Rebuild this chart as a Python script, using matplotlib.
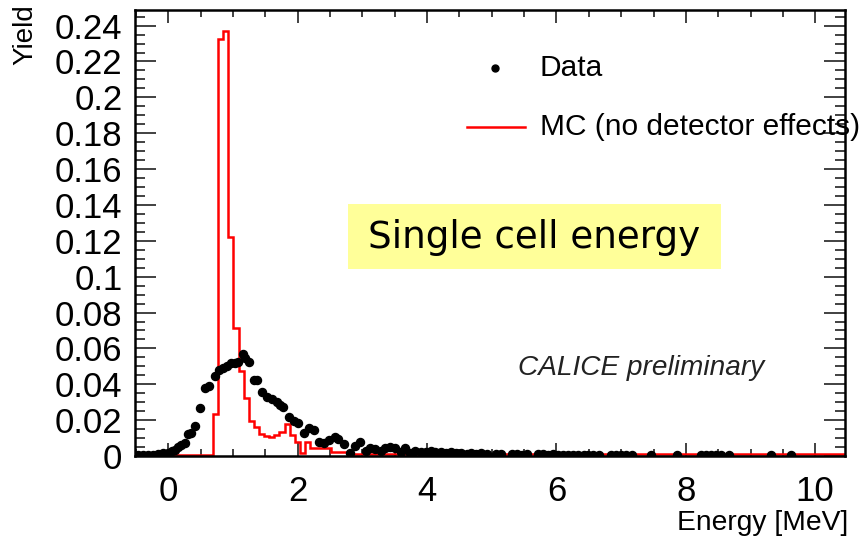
import numpy as np
import matplotlib
matplotlib.use("Agg")
import matplotlib.pyplot as plt
from matplotlib.ticker import MultipleLocator
from matplotlib.patches import Rectangle
from matplotlib.lines import Line2D

plt.rcParams["font.family"] = ["Liberation Sans", "DejaVu Sans"]

# MC histogram (no detector effects): bin edges and contents
mc_edges = [-0.5, 0.69, 0.769, 0.848, 0.927, 1.006, 1.085, 1.164, 1.243, 1.322,
            1.401, 1.48, 1.559, 1.638, 1.717, 1.796, 1.875, 1.954, 2.033, 2.112,
            2.191, 2.27, 2.349, 2.428, 2.507, 2.586, 2.665, 2.744, 2.823, 10.5]
mc_vals = [0.0005, 0.0234, 0.2324, 0.237, 0.1223, 0.0716, 0.0474, 0.0322, 0.0197,
           0.0163, 0.0123, 0.0112, 0.0104, 0.0117, 0.0136, 0.0178, 0.0117, 0.008,
           0.0018, 0.008, 0.0046, 0.0046, 0.0046, 0.0046, 0.0025, 0.0025, 0.0025,
           0.0025, 0.001]

# Data points
data_x = [-0.47, -0.39, -0.31, -0.24, -0.16, -0.08, 0.00, 0.05, 0.10, 0.155, 0.19,
          0.26, 0.31, 0.35, 0.41, 0.49, 0.57, 0.635, 0.72, 0.785, 0.85, 0.91, 0.97,
          1.03, 1.08, 1.15, 1.19, 1.24, 1.32, 1.37, 1.45, 1.52, 1.60, 1.68, 1.73,
          1.78, 1.86, 1.94, 2.01, 2.09, 2.17, 2.25, 2.33, 2.41, 2.49, 2.57, 2.63,
          2.71, 2.81, 2.89, 2.97, 3.05, 3.12, 3.20, 3.28, 3.35, 3.43, 3.51, 3.59,
          3.66, 3.74, 3.82, 3.90, 3.98, 4.06, 4.13, 4.21, 4.29, 4.37, 4.45, 4.53,
          4.61, 4.68, 4.76, 4.84, 4.92, 5.07, 5.15, 5.31, 5.39, 5.47, 5.55, 5.71,
          5.79, 5.87, 5.94, 6.02, 6.10, 6.18, 6.26, 6.34, 6.42, 6.49, 6.57, 6.65,
          6.84, 6.92, 7.00, 7.08, 7.16, 7.46, 7.87, 8.23, 8.31, 8.39, 8.46, 8.54,
          8.67, 9.31, 9.62]
data_y = [0.0005, 0.0005, 0.0005, 0.0008, 0.0012, 0.0015, 0.0018, 0.003, 0.0035,
          0.005, 0.006, 0.0074, 0.012, 0.013, 0.017, 0.0266, 0.0378, 0.039, 0.0446,
          0.048, 0.049, 0.050, 0.0517, 0.0517, 0.0526, 0.0567, 0.0545, 0.0526,
          0.0424, 0.0424, 0.0359, 0.0331, 0.0316, 0.0303, 0.0284, 0.0272, 0.0216,
          0.0197, 0.0182, 0.0127, 0.0158, 0.0145, 0.0076, 0.0071, 0.0089, 0.0108,
          0.0093, 0.0067, 0.0015, 0.0057, 0.008, 0.003, 0.0043, 0.0038, 0.003,
          0.0043, 0.0052, 0.0043, 0.0024, 0.0043, 0.0018, 0.003, 0.0025, 0.002,
          0.0028, 0.002, 0.0022, 0.0018, 0.002, 0.0015, 0.0017, 0.0012, 0.0015,
          0.0012, 0.0014, 0.001, 0.0012, 0.001, 0.001, 0.0012, 0.0008, 0.001,
          0.0009, 0.0011, 0.0008, 0.0009, 0.0007, 0.0008, 0.0007, 0.0006, 0.0008,
          0.0006, 0.0007, 0.0006, 0.0005, 0.0005, 0.0005, 0.0005, 0.0005, 0.0005,
          0.0005, 0.0005, 0.0005, 0.0005, 0.0005, 0.0005, 0.0005, 0.0005, 0.0005,
          0.0005]

W, H = 861, 545
fig = plt.figure(figsize=(W / 100, H / 100), dpi=100)
ax = fig.add_axes([135 / W, (H - 456) / H, (845 - 135) / W, (456 - 10) / H])

ax.stairs(mc_vals, mc_edges, color="#ff0000", lw=1.8, zorder=2)
ax.errorbar(data_x, data_y, yerr=0.0016, fmt="o", ms=5.8, color="black",
            ecolor="black", elinewidth=1.2, capsize=0, zorder=3)

ax.set_xlim(-0.515, 10.46)
ax.set_ylim(0, 0.2487)
ax.xaxis.set_major_locator(MultipleLocator(2))
ax.xaxis.set_minor_locator(MultipleLocator(0.5))
ax.yaxis.set_major_locator(MultipleLocator(0.02))
ax.yaxis.set_minor_locator(MultipleLocator(0.005))
ax.yaxis.set_major_formatter(plt.FuncFormatter(
    lambda v, p: f"{v:.2f}".rstrip("0").rstrip(".") if v else "0"))

ax.tick_params(axis="both", which="both", direction="in", top=True, right=True,
               color="#333333", width=1.3, labelsize=25)
ax.tick_params(axis="x", which="major", length=9.5, pad=14)
ax.tick_params(axis="x", which="minor", length=5)
ax.tick_params(axis="y", which="major", length=15, pad=9)
ax.tick_params(axis="y", which="minor", length=7.5)
for sp in ax.spines.values():
    sp.set_linewidth(1.8)

fig.text(25 / W, 1 - 4 / H, "Yield", rotation=90, ha="center", va="top", fontsize=20)
fig.text(848 / W, 1 - 523 / H, "Energy [MeV]", ha="right", va="center", fontsize=20.3)
fig.text(518 / W, 1 - 368 / H, "CALICE preliminary", ha="left", va="center",
         fontsize=20.2, style="italic", color="#222222")

# legend
fig.add_artist(Line2D([495 / W], [1 - 68 / H], marker="o", ms=5, color="black", ls="none"))
fig.add_artist(Line2D([467 / W, 525 / W], [1 - 127 / H, 1 - 127 / H], color="#ff0000", lw=1.8))
fig.text(540 / W, 1 - 68 / H, "Data", ha="left", va="center", fontsize=21.5)
fig.text(540 / W, 1 - 127 / H, "MC (no detector effects)", ha="left", va="center", fontsize=21.5)

# yellow label box
fig.add_artist(Rectangle((348 / W, 1 - 269 / H), (721 - 348) / W, (269 - 204) / H,
                         transform=fig.transFigure, facecolor="#ffff99", edgecolor="none"))
fig.text(534 / W, 1 - 237 / H, "Single cell energy", ha="center", va="center",
         fontsize=26.8, family="DejaVu Sans")

fig.savefig("out.png", dpi=100)
